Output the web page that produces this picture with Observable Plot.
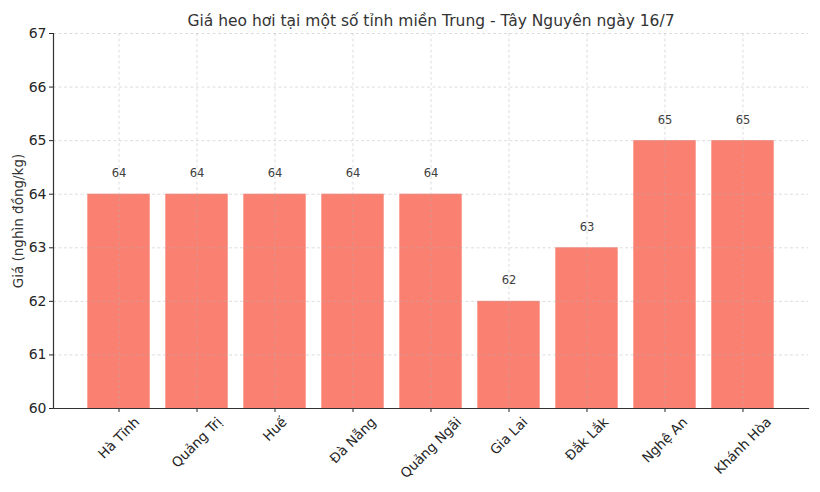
<!DOCTYPE html>
<html><head><meta charset="utf-8">
<script src="https://cdn.jsdelivr.net/npm/d3@7"></script>
<script src="https://cdn.jsdelivr.net/npm/@observablehq/plot@0.6"></script>
<style>body{margin:0;background:#fff}</style>
</head><body><div id="chart"></div>
<script>
const provinces = ["Hà Tĩnh", "Quảng Trị", "Huế", "Đà Nẵng", "Quảng Ngãi", "Gia Lai", "Đắk Lắk", "Nghệ An", "Khánh Hòa"];
const prices = [64, 64, 64, 64, 64, 62, 63, 65, 65];
const yTicks = [60, 61, 62, 63, 64, 65, 66, 67];
const title = "Giá heo hơi tại một số tỉnh miền Trung - Tây Nguyên ngày 16/7";
const yLabel = "Giá (nghìn đồng/kg)";

const data = provinces.map((p, i) => ({province: p, price: prices[i]}));

const FONT = "DejaVu Sans, sans-serif";
const LABEL_FS = 13.5;
const ctx = document.createElement("canvas").getContext("2d");
ctx.font = `${LABEL_FS}px 'DejaVu Sans'`;
const s45 = Math.SQRT1_2;
const xLabelMarks = provinces.map(p => {
  const w = ctx.measureText(p).width;
  const h = (w + 15) * s45;
  return Plot.text([p], {
    x: d => d, frameAnchor: "bottom", dy: 6 + h / 2,
    rotate: -45, textAnchor: "middle", lineAnchor: "middle",
    fontSize: LABEL_FS, fill: "#262626"
  });
});

const chart = Plot.plot({
  width: 820, height: 492,
  marginLeft: 53, marginRight: 12, marginTop: 33, marginBottom: 84,
  style: {fontFamily: FONT, background: "#fff", fontSize: "14px"},
  x: {domain: provinces, paddingInner: 0.2, paddingOuter: 0.44, round: false, axis: null},
  y: {domain: [60, 67], axis: null},
  marks: [
    Plot.barY(data, {x: "province", y1: 60, y2: "price", fill: "#FA8072"}),
    Plot.gridY(yTicks, {stroke: "#b0b0b0", strokeOpacity: 0.55, strokeDasharray: "3,2.5", strokeWidth: 0.8}),
    Plot.gridX(provinces, {stroke: "#b0b0b0", strokeOpacity: 0.55, strokeDasharray: "3,2.5", strokeWidth: 0.8}),
    Plot.axisY(yTicks, {anchor: "left", tickSize: 4, tickPadding: 3, fontSize: 14, tickFormat: d => String(d), color: "#262626", label: null}),
    Plot.axisX({anchor: "bottom", tickSize: 4, tickFormat: () => "", color: "#262626", label: null}),
    Plot.frame({anchor: "left", stroke: "#333", strokeWidth: 1.2}),
    Plot.frame({anchor: "bottom", stroke: "#333", strokeWidth: 1.2}),
    Plot.text(data, {x: "province", y: "price", text: d => String(d.price), dy: -17, lineAnchor: "bottom", fontSize: 11.5, fill: "#404040"}),
    ...xLabelMarks,
    Plot.text([yLabel], {frameAnchor: "left", dx: -35, rotate: -90, textAnchor: "middle", lineAnchor: "middle", fontSize: 13.5, fill: "#333"}),
    Plot.text([title], {frameAnchor: "top", dy: -12, lineAnchor: "middle", fontSize: 15.5, fill: "#333"})
  ]
});
document.getElementById("chart").appendChild(chart);
</script>
</body></html>
